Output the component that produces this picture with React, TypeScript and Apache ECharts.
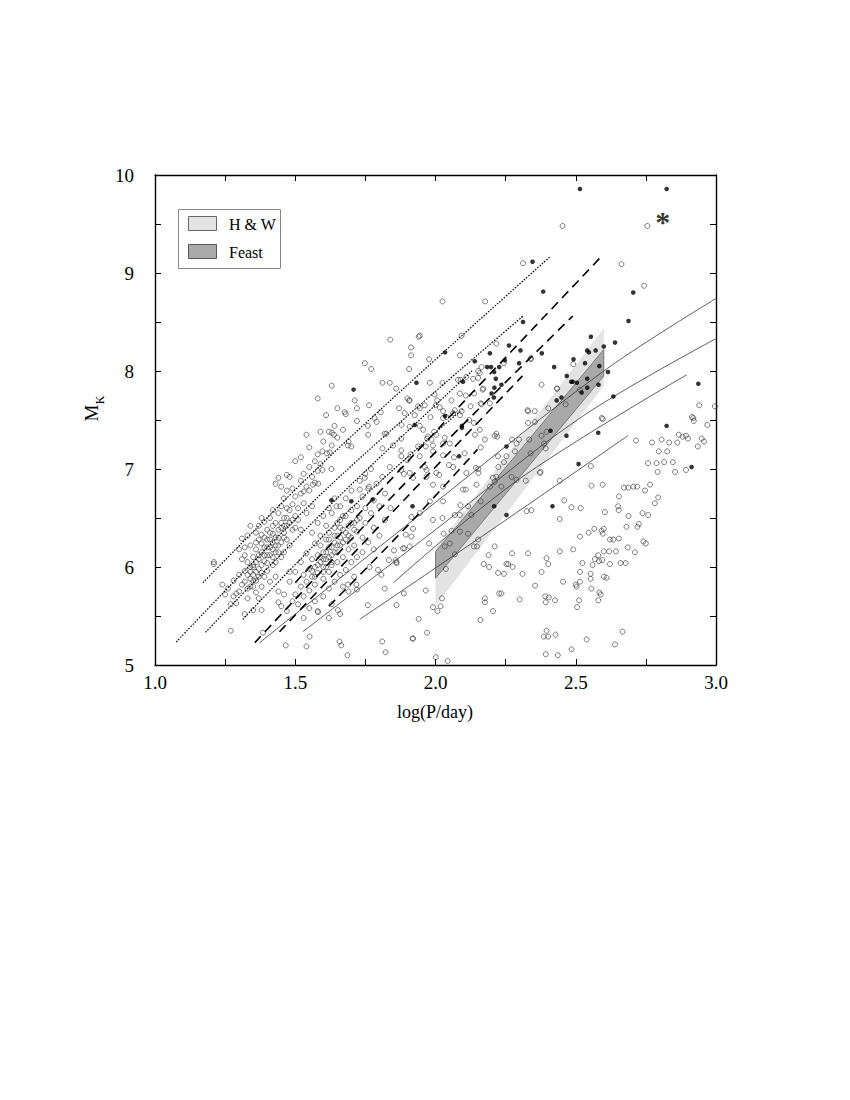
import React, { useEffect, useRef } from "react";
import * as echarts from "echarts";

// Axis ranges / ticks
const xRange = [1.0, 3.0];
const yRange = [5, 10];
const xTickStep = 0.25;
const yTickStep = 0.5;

// Bands (polygons in data units)
const hwBand = [[2.0, 5.6], [2.6, 7.85], [2.6, 8.435], [2.0, 6.19]];
const feastBand = [[2.0, 5.885], [2.6, 7.95], [2.6, 8.22], [2.0, 6.155]];

// Model tracks
const dotted1 = [[1.171, 5.84], [1.62, 7.12], [2.41, 9.17]];
const dotted2 = [[1.076, 5.235], [1.62, 6.82], [2.312, 8.56]];
const dotted3 = [[1.18, 5.334], [1.62, 6.62], [2.13, 8.0]];
const dotted4 = [[1.313, 5.466], [1.7, 6.6], [2.1, 7.62]];
const dashed1 = [[1.5, 5.84], [2.0, 7.38], [2.592, 9.17]];
const dashed2 = [[1.356, 5.228], [1.9, 6.88], [2.489, 8.56]];
const dashed3 = [[1.444, 5.34], [1.9, 6.72], [2.31, 7.95]];
const dashed4 = [[1.62, 5.6], [1.9, 6.42], [2.15, 7.2]];
const solid1 = [[1.373, 5.228], [2.0, 6.66], [2.6, 8.0], [3.0, 8.74]];
const solid2 = [[1.527, 5.34], [2.0, 6.38], [2.515, 7.52], [3.0, 8.33]];
const solid3 = [[1.85, 5.84], [2.3, 6.9], [2.895, 7.96]];
const solid4 = [[1.73, 5.466], [2.2, 6.38], [2.686, 7.34]];

// Special object
const asterisk = [[2.81, 9.58]];

// Open circles
const openA = [
  [1.21, 6.05], [1.21, 6.03], [1.24, 5.82], [1.27, 5.35], [1.25, 5.72], [1.26, 5.78], [1.27, 5.62], [1.28, 5.7], [1.29, 5.73], [1.3, 5.75],
  [1.29, 5.63], [1.28, 5.86], [1.3, 5.92], [1.31, 6.29], [1.32, 6.12], [1.32, 5.52], [1.35, 5.56], [1.38, 5.56],
  [1.31, 5.82], [1.32, 5.96], [1.33, 6.05], [1.33, 5.78], [1.34, 5.88], [1.34, 6.0], [1.35, 6.1], [1.31, 6.08], [1.32, 6.2], [1.33, 5.68],
  [1.35, 5.8], [1.35, 5.92], [1.34, 6.22], [1.33, 6.32], [1.35, 6.02], [1.36, 5.74], [1.36, 5.86], [1.37, 5.98], [1.37, 6.12], [1.38, 6.24],
  [1.38, 5.94], [1.39, 6.06], [1.39, 6.3], [1.4, 6.2], [1.36, 6.35], [1.37, 6.42], [1.38, 5.8], [1.39, 5.9], [1.4, 6.04], [1.36, 6.18],
  [1.37, 5.68], [1.38, 6.5], [1.4, 6.38], [1.39, 6.46], [1.4, 5.96], [1.37, 6.28], [1.41, 6.12], [1.41, 6.28], [1.42, 6.34], [1.42, 6.02],
  [1.43, 6.22], [1.43, 6.45], [1.44, 6.3], [1.44, 6.15], [1.45, 6.4], [1.41, 6.5], [1.42, 6.58], [1.43, 5.9], [1.44, 6.55], [1.45, 6.25],
  [1.42, 6.18], [1.45, 6.62], [1.41, 5.85], [1.43, 6.05], [1.44, 5.75], [1.42, 6.42], [1.45, 6.1], [1.46, 6.35], [1.46, 6.5], [1.47, 6.42],
  [1.47, 6.28], [1.48, 6.58], [1.48, 6.45], [1.49, 6.38], [1.49, 6.64], [1.5, 6.52], [1.46, 6.7], [1.47, 6.78], [1.48, 6.22], [1.5, 6.4],
  [1.49, 6.8], [1.46, 6.15], [1.5, 6.72], [1.47, 6.6], [1.48, 6.92], [1.49, 6.48], [1.44, 6.91], [1.47, 6.94], [1.43, 6.85], [1.45, 6.82],
  [1.34, 6.42], [1.3, 6.18], [1.51, 6.6], [1.52, 6.75], [1.52, 6.88], [1.53, 6.95],
  [1.54, 6.82], [1.55, 7.02], [1.56, 6.92], [1.57, 7.08], [1.58, 7.15], [1.59, 7.05], [1.53, 6.65], [1.55, 6.78], [1.57, 6.86], [1.58, 6.98],
  [1.6, 7.28], [1.62, 7.38], [1.63, 7.24], [1.64, 7.44], [1.51, 6.48], [1.52, 6.38], [1.54, 6.55], [1.56, 6.62], [1.65, 7.32], [1.67, 7.4],
  [1.68, 7.56], [1.69, 7.28], [1.72, 7.62], [1.5, 7.08], [1.55, 7.22], [1.59, 7.38], [1.52, 7.12],
];
const coreA = [
  [1.34, 5.95], [1.35, 6.0], [1.36, 6.05], [1.37, 6.08], [1.38, 6.15], [1.39, 6.2], [1.4, 6.12], [1.41, 6.2], [1.42, 6.25], [1.43, 6.3],
  [1.44, 6.38], [1.38, 6.02], [1.39, 6.12], [1.36, 5.95], [1.37, 5.9], [1.35, 5.86], [1.4, 6.28], [1.41, 6.35], [1.43, 6.15], [1.44, 6.22],
  [1.46, 6.3], [1.45, 6.45], [1.46, 6.42], [1.47, 6.5], [1.33, 5.92], [1.32, 5.85], [1.34, 5.8], [1.36, 6.25], [1.38, 6.33], [1.42, 6.1],
];
const openB = [
  [1.45, 5.6], [1.47, 5.55], [1.49, 5.65], [1.5, 5.72], [1.51, 5.62], [1.52, 5.8], [1.53, 5.7], [1.53, 5.92], [1.54, 5.85], [1.55, 5.98],
  [1.55, 5.76], [1.56, 5.9], [1.56, 6.08], [1.57, 5.82], [1.57, 6.0], [1.58, 6.12], [1.58, 5.94], [1.59, 6.05], [1.59, 6.22], [1.6, 5.88],
  [1.6, 6.0], [1.6, 6.15], [1.61, 6.28], [1.61, 6.08], [1.62, 5.95], [1.62, 6.2], [1.62, 6.35], [1.63, 6.12], [1.63, 6.02], [1.64, 6.25],
  [1.64, 6.4], [1.65, 6.15], [1.65, 6.05], [1.65, 6.32], [1.66, 6.48], [1.66, 6.22], [1.67, 6.1], [1.67, 6.38], [1.68, 6.28], [1.68, 6.52],
  [1.69, 6.18], [1.69, 6.42], [1.7, 6.3], [1.7, 6.58], [1.71, 6.45], [1.71, 6.22], [1.72, 6.36], [1.72, 6.62], [1.73, 6.5], [1.74, 6.3],
  [1.74, 6.72], [1.75, 6.45], [1.75, 6.6], [1.76, 6.8], [1.77, 6.55], [1.78, 6.68], [1.78, 6.4], [1.79, 6.85], [1.8, 6.62], [1.56, 6.35],
  [1.58, 6.45], [1.6, 6.52], [1.62, 6.6], [1.64, 6.7], [1.63, 6.55], [1.61, 6.42], [1.59, 6.32], [1.57, 6.24], [1.54, 6.14], [1.52, 6.05],
  [1.5, 5.95], [1.48, 5.85], [1.53, 5.48], [1.55, 5.58], [1.57, 5.65], [1.6, 5.7], [1.62, 5.78], [1.64, 5.85], [1.66, 5.92], [1.68, 5.97],
  [1.7, 6.05], [1.72, 6.1], [1.74, 6.15], [1.67, 5.8], [1.69, 5.75], [1.71, 5.9], [1.63, 5.62], [1.58, 5.55], [1.76, 6.25], [1.78, 6.18],
  [1.8, 6.32], [1.82, 6.48], [1.84, 6.6], [1.82, 6.75], [1.81, 6.92], [1.77, 7.0], [1.75, 6.95], [1.73, 6.88], [1.7, 6.78], [1.68, 6.7],
  [1.66, 6.62], [1.46, 5.72], [1.44, 5.64], [1.48, 5.95], [1.66, 5.52], [1.62, 5.48],
];
const coreB = [
  [1.58, 6.02], [1.59, 6.1], [1.6, 6.08], [1.61, 6.15], [1.62, 6.1], [1.63, 6.2], [1.64, 6.15], [1.65, 6.22], [1.66, 6.3], [1.67, 6.25],
  [1.68, 6.35], [1.69, 6.32], [1.6, 5.95], [1.61, 6.0], [1.63, 6.05], [1.62, 6.28], [1.64, 6.32], [1.66, 6.4], [1.7, 6.45], [1.71, 6.38],
  [1.72, 6.48], [1.57, 5.9], [1.56, 5.96], [1.65, 6.45], [1.67, 6.52],
];
const openUpperLeft = [
  [1.631, 7.37], [1.638, 7.35], [1.688, 7.24], [1.7, 7.23], [1.72, 7.49], [1.759, 7.44], [1.783, 7.52], [1.819, 7.36], [1.825, 7.36],
  [1.811, 7.21], [1.849, 7.24], [1.878, 7.31], [1.837, 7.02], [1.878, 6.99], [1.748, 6.91], [1.763, 6.82], [1.73, 6.79], [1.597, 7.18],
  [1.613, 7.16], [1.623, 7.17], [1.597, 6.99], [1.629, 7.0], [1.53, 6.77], [1.563, 6.84], [1.582, 6.85], [1.647, 6.62],
  [1.86, 7.82], [1.87, 7.62], [1.9, 7.72], [1.76, 7.35], [1.79, 7.48], [1.65, 7.62], [1.63, 7.85], [1.58, 7.72], [1.61, 7.55], [1.54, 7.35],
];
const openUpper = [
  [1.839, 8.32], [1.913, 8.24], [1.913, 8.16], [1.94, 8.35], [1.748, 8.08], [1.771, 8.02], [1.811, 7.88], [1.837, 7.88], [1.906, 8.02],
  [1.712, 7.7], [1.763, 7.65], [1.676, 7.58], [1.906, 7.7], [1.938, 7.64], [1.805, 7.58], [2.453, 9.48], [2.755, 9.48], [2.663, 9.09],
  [2.312, 9.1], [2.744, 8.87], [2.025, 8.71], [2.177, 8.71], [1.944, 8.36], [2.093, 8.36], [2.087, 8.16], [1.977, 8.12], [2.217, 8.28],
  [2.244, 8.08], [2.34, 8.12], [1.98, 7.88], [2.025, 7.88], [2.09, 7.91], [2.087, 7.77], [2.158, 7.98], [2.164, 8.04], [2.11, 7.94],
  [2.378, 7.86], [2.491, 8.07], [2.515, 7.81], [2.432, 7.82], [2.464, 7.66], [2.402, 7.62], [2.33, 7.59], [2.354, 7.59], [2.919, 7.52],
  [2.996, 7.64], [2.94, 7.65], [2.593, 7.52], [2.17, 7.82], [2.137, 7.77], [2.001, 7.65], [2.006, 7.7], [2.057, 7.7], [2.161, 7.67],
  [2.069, 7.6], [2.093, 7.59], [2.087, 7.55], [2.027, 7.59], [2.039, 7.53], [1.926, 7.55], [1.944, 7.62], [1.908, 7.7], [1.962, 7.65],
];
const openMid = [
  [1.92, 6.39], [1.908, 6.21], [1.889, 6.19], [1.977, 6.24], [2.033, 6.21], [2.051, 6.24], [2.069, 6.13], [2.057, 6.37], [2.087, 6.36],
  [2.116, 6.34], [2.152, 6.28], [2.128, 6.53], [2.069, 6.53], [2.087, 6.53], [2.029, 6.34], [2.025, 6.5], [1.991, 6.48], [1.944, 6.55],
  [1.914, 6.51], [1.894, 6.33], [2.161, 6.67], [2.194, 6.82], [2.205, 6.91], [2.217, 6.92], [2.235, 6.82], [2.224, 7.02], [2.322, 6.88],
  [2.372, 6.96], [2.443, 6.88], [2.325, 6.57], [2.342, 6.58], [2.459, 6.68], [2.485, 6.61], [2.518, 6.6], [2.443, 6.49], [2.556, 6.83],
  [2.596, 6.84], [2.554, 7.03], [2.596, 7.51], [2.387, 7.26], [2.289, 7.26], [2.298, 7.3], [2.273, 7.3], [2.334, 7.3], [2.22, 7.33],
  [2.153, 7.0], [2.153, 6.96], [2.098, 6.79], [2.108, 6.79], [2.089, 6.63], [2.116, 6.62], [2.027, 6.67], [1.98, 6.67], [1.944, 7.44],
  [1.982, 7.53], [1.995, 7.38], [1.97, 7.31], [1.991, 7.24], [2.033, 7.32], [2.051, 7.26], [2.027, 7.14], [2.066, 7.12], [2.048, 7.04],
  [2.003, 6.96], [1.968, 6.99], [1.92, 6.91], [1.911, 7.15], [1.938, 7.23], [1.887, 6.95], [2.12, 7.5], [2.137, 7.47], [2.158, 7.4],
  [2.141, 7.35], [2.176, 7.3], [2.161, 7.22], [2.211, 7.34], [2.223, 7.13], [2.244, 7.07], [1.997, 7.76], [2.108, 7.75], [2.08, 7.91],
  [2.134, 7.92], [2.152, 7.93], [2.168, 7.81], [2.152, 8.0], [2.194, 7.67], [2.125, 7.64], [2.164, 7.66], [2.015, 7.63], [2.063, 7.57],
  [2.027, 7.52], [1.89, 7.57], [1.908, 7.43], [1.879, 7.45], [1.956, 7.4], [1.973, 7.33], [1.986, 7.3], [2.003, 7.35], [1.965, 7.23],
  [1.991, 7.18], [2.027, 7.26], [1.944, 7.13], [1.962, 7.02], [1.899, 7.09], [1.908, 6.96], [1.968, 6.92], [2.013, 6.94], [1.991, 6.84],
  [2.027, 6.82], [1.878, 7.19], [1.878, 7.13], [2.063, 7.02], [2.104, 7.16], [2.11, 6.96], [2.144, 7.01], [2.146, 6.84], [2.211, 6.87],
  [2.271, 6.92], [2.289, 6.89], [2.328, 7.6], [2.339, 8.13], [2.434, 7.82], [2.378, 7.34], [2.396, 7.38], [2.393, 7.21], [2.339, 7.16],
  [2.374, 6.97], [2.283, 7.18], [2.253, 7.13], [2.354, 7.48], [2.33, 7.47], [2.217, 7.36],
];
const openLow = [
  [1.466, 5.2], [1.54, 5.19], [1.658, 5.24], [1.664, 5.2], [1.686, 5.1], [1.81, 5.24], [1.822, 5.13], [1.918, 5.27], [1.759, 5.61],
  [1.718, 5.82], [1.795, 5.97], [1.819, 5.78], [1.861, 6.05], [1.858, 6.07], [1.884, 6.19], [1.914, 6.31], [1.807, 5.92], [1.852, 6.17],
  [1.765, 6.0], [1.652, 5.56], [1.688, 5.82], [1.551, 5.29], [1.385, 5.33], [1.581, 5.54], [1.72, 5.77], [1.861, 5.61], [1.887, 5.73],
  [1.834, 6.07], [1.861, 6.04],
];
const openRight = [
  [2.914, 7.53], [2.921, 7.49], [2.969, 7.45], [2.949, 7.31], [2.957, 7.28], [2.935, 7.23], [2.881, 7.33], [2.893, 7.34], [2.867, 7.35],
  [2.862, 7.27], [2.9, 7.31], [2.833, 7.27], [2.806, 7.3], [2.772, 7.27], [2.715, 7.29], [2.796, 7.18], [2.826, 7.18], [2.758, 7.06],
  [2.788, 7.06], [2.815, 7.07], [2.846, 7.07], [2.893, 6.99], [2.854, 6.97], [2.792, 6.97], [2.705, 6.82], [2.719, 6.82], [2.765, 6.84],
  [2.672, 6.81], [2.687, 6.81], [2.747, 6.78], [2.654, 6.72], [2.794, 6.71], [2.782, 6.65], [2.651, 6.62], [2.653, 6.58], [2.738, 6.55],
  [2.758, 6.53], [2.688, 6.52], [2.604, 6.56], [2.725, 6.44], [2.72, 6.41], [2.681, 6.41], [2.592, 6.37], [2.596, 6.34], [2.6, 6.39],
  [2.566, 6.39], [2.546, 6.35], [2.515, 6.31], [2.622, 6.28], [2.634, 6.28], [2.654, 6.29], [2.741, 6.26], [2.75, 6.24], [2.685, 6.2],
  [2.711, 6.15], [2.6, 6.16], [2.619, 6.16], [2.643, 6.16], [2.58, 6.12], [2.568, 6.08], [2.583, 6.06], [2.594, 6.07], [2.622, 6.03],
  [2.66, 6.04], [2.678, 6.04], [2.56, 6.02], [2.524, 6.04], [2.491, 6.18], [2.515, 5.95], [2.553, 5.93], [2.553, 5.88], [2.6, 5.9],
  [2.61, 5.89], [2.5, 5.82], [2.503, 5.8], [2.556, 5.78], [2.515, 5.85], [2.584, 5.74], [2.589, 5.72], [2.58, 5.66], [2.512, 5.66],
  [2.505, 5.59], [2.455, 5.85], [2.443, 6.16], [2.396, 6.09], [2.402, 6.03], [2.378, 5.95], [2.355, 5.81], [2.33, 6.14], [2.273, 6.14],
  [2.253, 6.03], [2.259, 6.03], [2.275, 6.0], [2.244, 5.93], [2.223, 5.94], [2.191, 6.0], [2.31, 5.93], [2.189, 6.12], [2.172, 6.03],
  [2.137, 6.21], [2.148, 6.21], [2.211, 6.21], [2.227, 5.73], [2.235, 5.73], [2.176, 5.68], [2.176, 5.64], [2.205, 5.55], [2.3, 5.67],
  [2.391, 5.7], [2.404, 5.69], [2.393, 5.64], [2.426, 5.66], [2.16, 5.46], [2.396, 5.35], [2.386, 5.29], [2.402, 5.29], [2.428, 5.31],
  [2.393, 5.11], [2.436, 5.1], [2.485, 5.16], [2.539, 5.26], [2.64, 5.21], [2.667, 5.34], [2.001, 5.08], [2.043, 5.04], [1.92, 5.27],
  [1.97, 5.33], [1.94, 5.47], [1.965, 5.76], [1.991, 5.59], [2.007, 5.55], [2.018, 5.6], [2.023, 5.68], [2.037, 5.98],
];

// Filled dots
const filled = [
  [2.515, 9.857], [2.824, 9.857], [2.346, 9.115], [2.384, 8.81], [2.705, 8.8], [2.688, 8.51], [2.312, 8.5], [2.034, 8.19], [1.932, 7.88],
  [2.14, 8.1], [2.194, 8.18], [2.184, 8.04], [2.198, 8.04], [2.209, 7.99], [2.227, 8.04], [2.215, 7.92], [2.247, 8.11], [2.262, 8.26],
  [2.235, 7.86], [2.21, 7.83], [2.2, 7.77], [2.208, 7.73], [2.303, 8.21], [2.298, 8.08], [2.379, 8.18], [2.423, 8.04], [2.449, 7.73],
  [2.432, 7.7], [2.492, 8.12], [2.533, 8.08], [2.554, 8.35], [2.541, 8.21], [2.547, 8.19], [2.571, 8.21], [2.6, 8.25], [2.584, 8.05],
  [2.64, 8.29], [2.615, 7.99], [2.484, 7.89], [2.489, 7.89], [2.504, 7.88], [2.468, 7.95], [2.541, 7.92], [2.521, 7.78], [2.541, 7.83],
  [2.581, 7.86], [2.634, 7.74], [2.937, 7.87], [2.034, 7.54], [2.094, 7.44], [2.094, 7.42], [2.41, 7.39], [2.467, 7.34], [2.58, 7.37],
  [2.824, 7.44], [2.253, 7.23], [2.084, 7.13], [2.51, 7.05], [2.913, 7.02], [2.209, 6.62], [2.417, 6.62], [2.253, 6.53], [1.918, 6.62],
  [1.708, 7.81], [1.629, 6.68], [1.7, 6.67], [1.776, 6.69], [1.926, 7.45], [2.098, 7.89],
];

const FONT = '"Liberation Serif", "Times New Roman", serif';

function polySeries(points: number[][], fill: string, stroke: string, lw: number, z: number) {
  return {
    type: "custom",
    coordinateSystem: "cartesian2d",
    xAxisIndex: 0,
    yAxisIndex: 0,
    silent: true,
    z,
    data: [points[0]],
    renderItem: (_p: any, api: any) => ({
      type: "polygon",
      shape: { points: points.map((p) => api.coord(p)) },
      style: { fill, stroke, lineWidth: lw },
    }),
  };
}

function lineSeries(data: number[][], type: any, width: number, color: string) {
  return {
    type: "line",
    data,
    showSymbol: false,
    symbol: "none",
    smooth: 0.35,
    silent: true,
    z: 4,
    lineStyle: { type, width, color },
  };
}

const openStyle = {
  type: "scatter",
  symbol: "circle",
  symbolSize: 5,
  silent: true,
  z: 3,
  itemStyle: { color: "rgba(255,255,255,0)", borderColor: "#333", borderWidth: 0.8 },
};

export default function App() {
  const ref = useRef<HTMLDivElement>(null);
  useEffect(() => {
    document.body.style.margin = "0";
    const chart = echarts.init(ref.current!, null, { renderer: "svg" });
    const axisCommon = {
      type: "value",
      axisLine: { show: true, lineStyle: { color: "#000", width: 1.4 } },
      axisTick: { show: true, inside: true, length: 6, lineStyle: { color: "#000", width: 1 } },
      splitLine: { show: false },
    };
    chart.setOption({
      animation: false,
      backgroundColor: "#fff",
      grid: { left: 155, top: 175, width: 561, height: 490 },
      xAxis: [
        {
          ...axisCommon,
          min: xRange[0],
          max: xRange[1],
          interval: xTickStep,
          position: "bottom",
          axisLabel: {
            color: "#000",
            fontFamily: FONT,
            fontSize: 19,
            margin: 8,
            formatter: (v: number) => (Math.abs(v * 2 - Math.round(v * 2)) < 1e-6 ? v.toFixed(1) : ""),
          },
        },
        {
          ...axisCommon,
          min: xRange[0],
          max: xRange[1],
          interval: xTickStep,
          position: "top",
          axisLabel: { show: false },
        },
      ],
      yAxis: [
        {
          ...axisCommon,
          min: yRange[0],
          max: yRange[1],
          interval: yTickStep,
          position: "left",
          axisLabel: {
            color: "#000",
            fontFamily: FONT,
            fontSize: 19,
            margin: 21,
            formatter: (v: number) => (Number.isInteger(v) ? String(v) : ""),
          },
        },
        {
          ...axisCommon,
          min: yRange[0],
          max: yRange[1],
          interval: yTickStep,
          position: "right",
          axisLabel: { show: false },
        },
      ],
      graphic: [
        { type: "text", x: 435, y: 712, style: { text: "log(P/day)", font: `18px ${FONT}`, fill: "#000", align: "center", verticalAlign: "middle" } },
        { type: "text", x: 91, y: 413, rotation: Math.PI / 2, style: { text: "M", font: `19px ${FONT}`, fill: "#000", align: "center", verticalAlign: "middle" } },
        { type: "text", x: 100, y: 400, rotation: Math.PI / 2, style: { text: "K", font: `12px ${FONT}`, fill: "#000", align: "center", verticalAlign: "middle" } },
        { type: "rect", shape: { x: 178.5, y: 209.5, width: 102, height: 59 }, style: { fill: "#fff", stroke: "#888", lineWidth: 1 }, z: 10 },
        { type: "rect", shape: { x: 188.5, y: 216.5, width: 28, height: 14 }, style: { fill: "#e4e4e4", stroke: "#666", lineWidth: 1 }, z: 11 },
        { type: "rect", shape: { x: 188.5, y: 244.5, width: 28, height: 14 }, style: { fill: "#ababab", stroke: "#555", lineWidth: 1 }, z: 11 },
        { type: "text", x: 229, y: 224, style: { text: "H & W", font: `16px ${FONT}`, fill: "#000", verticalAlign: "middle" }, z: 11 },
        { type: "text", x: 229, y: 252, style: { text: "Feast", font: `16px ${FONT}`, fill: "#000", verticalAlign: "middle" }, z: 11 },
      ],
      series: [
        polySeries(hwBand, "#e3e3e3", "none", 0, 1),
        polySeries(feastBand, "#a9a9a9", "#666", 0.8, 2),
        { ...openStyle, data: openA },
        { ...openStyle, data: coreA },
        { ...openStyle, data: openB },
        { ...openStyle, data: coreB },
        { ...openStyle, data: openUpperLeft },
        { ...openStyle, data: openUpper },
        { ...openStyle, data: openMid },
        { ...openStyle, data: openLow },
        { ...openStyle, data: openRight },
        lineSeries(dotted1, [1.5, 1.5], 1.2, "#000"),
        lineSeries(dotted2, [1.5, 1.5], 1.2, "#000"),
        lineSeries(dotted3, [1.5, 1.5], 1.2, "#000"),
        lineSeries(dotted4, [1.5, 1.5], 1.2, "#000"),
        lineSeries(dashed1, [9, 6], 1.6, "#000"),
        lineSeries(dashed2, [9, 6], 1.6, "#000"),
        lineSeries(dashed3, [9, 6], 1.6, "#000"),
        lineSeries(dashed4, [9, 6], 1.6, "#000"),
        lineSeries(solid1, "solid", 0.8, "#333"),
        lineSeries(solid2, "solid", 0.8, "#333"),
        lineSeries(solid3, "solid", 0.8, "#333"),
        lineSeries(solid4, "solid", 0.8, "#333"),
        {
          type: "scatter",
          data: filled,
          symbol: "circle",
          symbolSize: 4.6,
          silent: true,
          z: 5,
          itemStyle: { color: "#000" },
        },
        {
          type: "scatter",
          data: asterisk,
          symbolSize: 1,
          silent: true,
          z: 5,
          itemStyle: { color: "rgba(0,0,0,0)" },
          label: { show: true, position: "inside", formatter: "*", fontSize: 30, fontWeight: "bold", fontFamily: FONT, color: "#000", offset: [0, 5] },
        },
      ],
    });
    return () => chart.dispose();
  }, []);
  return <div ref={ref} style={{ width: 850, height: 1100 }} />;
}
